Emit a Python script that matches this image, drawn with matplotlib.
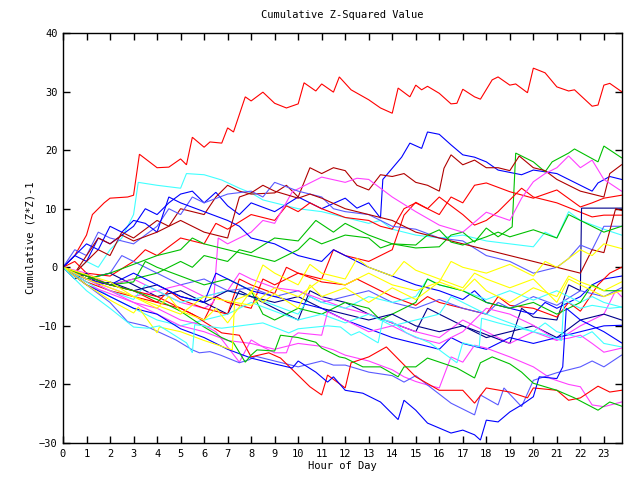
import matplotlib
matplotlib.use("Agg")
import matplotlib.pyplot as plt

# gnuplot-like palette
RED = "#ff0000"
GREEN = "#00c000"
BLUE = "#0000ff"
MAGENTA = "#ff40ff"
CYAN = "#40ffff"
DKRED = "#b00000"
YELLOW = "#ffff00"
SLATE = "#5a5aff"
NAVY = "#00008b"

# each walk: (hour, cumulative value) breakpoints
red_top = [(0, 0), (0.5, 2), (1, 5.5), (1.25, 9), (1.75, 11), (2, 11.8), (2.75, 12), (3, 12.3),
           (3.25, 19.3), (4, 17), (4.5, 17.1), (5, 18.5), (5.25, 17.5), (5.5, 22.2), (6, 20.5),
           (6.25, 21.4), (6.75, 21.2), (7, 23.8), (7.25, 23.1), (7.75, 29.1), (8, 28.4), (8.5, 29.9),
           (9, 28), (9.5, 27.2), (10, 27.9), (10.25, 31.5), (10.75, 30.1), (11, 31.3), (11.5, 29.9),
           (11.75, 32.5), (12.25, 30.3), (13, 28.6), (13.5, 27.2), (14, 26.3), (14.25, 30.6),
           (14.75, 29.1), (15, 31.1), (15.25, 30.3), (15.5, 30.9), (16, 29.7), (16.5, 27.9),
           (16.75, 28), (17, 30.4), (17.5, 29.1), (17.75, 28.7), (18.25, 32), (18.5, 32.5), (19, 31.1),
           (19.25, 31.3), (19.75, 29.8), (20, 34), (20.5, 33.2), (21, 30.8), (21.5, 30.1),
           (21.75, 30.3), (22.5, 27.5), (22.75, 27.7), (23, 31.1), (23.25, 31.4), (23.75, 30)]

cyan_top = [(0, 0), (0.5, -1), (1, 1), (1.5, 0), (2, 3), (2.5, 5), (3, 9), (3.2, 14.5), (4, 14),
            (5, 13.5), (5.25, 16), (6, 15.8), (6.75, 14.9), (7.5, 13.5), (8, 12.7), (8.5, 11.5), (9, 11),
            (10, 10), (11, 9.5), (12, 8.5), (13, 7.5), (13.5, 8), (14, 6.5), (15, 5.5), (16, 5),
            (17, 5.5), (18, 4.5), (19, 4), (20, 3.5), (20.5, 6), (21, 5), (21.5, 9.5), (22, 8),
            (23, 6.5), (23.75, 5.5)]

blue_peak = [(0, 0), (0.5, 2), (1, 1), (1.5, 5), (2, 4), (3, 7), (3.5, 10), (4, 9), (4.5, 11), (5, 12.5),
             (5.5, 13), (6, 11), (6.5, 12.8), (7, 10.5), (7.5, 9), (8, 11), (9, 9.5), (10, 12), (10.5, 11),
             (11, 10), (12, 11.8), (12.5, 10.1), (13, 11), (13.5, 8.4), (13.6, 15), (14.4, 18.8),
             (14.75, 21.2), (15.25, 20.3), (15.5, 23.1), (16, 22.7), (16.5, 20.9), (17, 19.2),
             (17.5, 18.8), (18, 18), (18.5, 16.6), (19.5, 15.8), (20, 16.6), (21, 16), (22, 14),
             (22.5, 13), (22.75, 14.4), (23.25, 15.5), (23.75, 15)]

green_top = [(0, 0), (1, -1.5), (2, -3), (3, -2), (4, -1), (5, 1), (5.5, 0), (6, 2), (7, 1), (7.5, 3),
             (8, 2.5), (9, 5), (10, 4.5), (10.75, 8), (11.5, 6), (12, 7.5), (13, 5.5), (14, 4), (15, 3.3),
             (16, 3.5), (16.5, 5.5), (17, 6), (17.5, 4.3), (18, 6.7), (18.5, 5.2), (19.1, 6.9),
             (19.25, 19.5), (20, 18), (20.5, 16.3), (20.8, 18), (21.5, 19.5), (21.75, 20.2),
             (22.75, 18), (23, 20.7), (23.75, 18.7)]

dkred_top = [(0, 0), (0.5, -1), (1, 1), (1.5, 3), (2, 2), (2.5, 6), (3, 5), (4, 8), (4.5, 7), (5, 10),
             (6, 9), (6.5, 12), (7, 14), (7.5, 13), (8, 12.5), (9, 12.7), (9.5, 14), (10, 12), (10.5, 17),
             (11, 16), (11.5, 17), (12, 16.5), (12.5, 14), (13, 13.2), (13.5, 15.8), (14, 15.5),
             (14.5, 16), (15, 14.5), (15.5, 14), (16, 13), (16.2, 16.9), (16.5, 19.2), (17, 17.5),
             (17.5, 18.3), (18, 17), (18.5, 17), (19, 16.5), (19.4, 19), (20, 17), (20.5, 16.5),
             (21, 15), (22, 13), (23, 12), (23.25, 16), (23.75, 17.5)]

red_mid = [(0, 0), (0.5, 1), (1, -1), (2, -1.5), (3, 1), (3.5, 3), (4, 2), (5, 5), (6, 4), (6.5, 7.5),
           (7, 6.5), (8, 9), (9, 8), (9.5, 10.5), (10, 9.5), (10.5, 11), (11, 10), (12, 8.5), (13, 8),
           (13.5, 7), (14, 6.5), (14.5, 10), (15, 11), (16, 9), (16.5, 12), (17, 11), (17.5, 14),
           (18, 14.4), (19, 12.9), (20, 11.8), (21, 13.2), (22, 10.3), (22.5, 11), (23, 11.8),
           (23.75, 12.3)]

red_mid2 = [(0, 0), (1, -2), (2, -3), (3, -4), (4, -6), (5, -7), (6, -9), (6.5, -5), (7, -6), (8, -7),
            (8.5, -2), (9, -3), (10, -1), (11, -2), (11.5, 3), (12, 2), (13, 1), (14, 3), (14.5, 8.9),
            (15, 11.1), (15.5, 10), (16, 12), (17, 9), (17.5, 7.2), (18, 8), (18.5, 9.5), (19, 11.5),
            (19.5, 13.5), (20, 12), (21, 11), (22, 9.4), (22.5, 8.6), (23, 8.9), (23.75, 8.9)]

navy_flat = [(0, 0), (1, -2), (2, -1), (3, -3), (4, -5), (5, -4), (6, -6), (7, -8), (7.5, -4), (8, -5),
             (9, -7), (10, -9), (10.5, -4), (11, -5), (12, -6), (13, -8), (14, -9.5), (15, -11),
             (15.5, -7), (16, -8), (17, -10), (18, -11.5), (19, -13), (19.5, -7), (20, -8.5), (21, -9),
             (21.5, -3), (22, -4), (22.05, 10.1), (23.75, 10.1)]

magenta_hi = [(0, 0), (1, -2), (2, -3.5), (3, -5), (4, -4), (5, -6), (6, -7), (6.4, -6), (6.6, 5),
              (7, 4), (8, 6), (8.5, 8), (9, 7.5), (9.75, 12.9), (10.5, 14.4), (11, 15.4), (12, 14.5),
              (12.5, 15.2), (13, 15), (14, 12), (15, 9.5), (16, 7.2), (17, 6), (18, 9.4), (19, 8),
              (19.5, 11.8), (20, 14.6), (20.5, 16), (21, 17), (21.5, 19), (22, 17), (22.5, 18.3),
              (23, 15), (23.75, 13)]

slate_hi = [(0, 0), (0.5, 3), (1, 2), (1.5, 6), (2, 5), (3, 4), (4, 7), (4.5, 10), (5, 9), (5.5, 12),
            (6, 11), (7, 12.5), (8, 13), (8.5, 12), (9, 14.5), (10, 13), (11, 12), (11.5, 10),
            (12, 9.5), (13, 9), (14, 7), (15, 6.5), (16, 5), (17, 4.5), (18, 2), (19, 1), (20, -1),
            (21, 0), (21.5, 1.5), (22, 3.8), (22.5, 3), (23, 7), (23.75, 7)]

blue_mid1 = [(0, 0), (0.5, 2), (1, 4), (1.5, 3), (2, 7), (2.5, 6), (3, 8), (3.5, 7.5), (4, 6),
             (4.5, 12), (5, 11), (6, 9.5), (7, 8), (7.5, 7), (8, 5), (9, 4), (10, 2), (11, 1),
             (11.5, 3), (12, 2), (13, 0), (14, -1.5), (15, -3), (16, -4), (17, -5.5), (17.5, -4),
             (18, -6), (19, -7), (20, -8), (20.5, -6), (21, -7), (22, -5), (22.5, -3), (23, -2),
             (23.75, -1.5)]

red_mid3 = [(0, 0), (1, -2.5), (2, -4), (3, -5), (4, -6), (4.5, -4), (5, -5.5), (6, -7), (7, -8),
            (7.5, -2), (8, -3), (9, -4.5), (9.5, 0), (10, -1), (11, -2.5), (12, -3), (12.5, -2),
            (13, -3), (14, -5), (15, -6.5), (15.5, -5), (16, -6), (17, -7), (18, -8), (18.5, -5),
            (19, -6.5), (20, -7), (21, -8.5), (21.5, -6), (22, -7.5), (22.75, -3), (23.25, -1),
            (23.75, 0)]

dkred_mid = [(0, 0), (0.5, -1), (1, 2), (1.5, 5), (2, 4), (2.5, 5.5), (3, 4.5), (4, 6), (5, 8),
             (5.5, 7), (6, 6), (7, 5), (7.5, 12), (8, 12.7), (8.5, 14), (9, 13), (10, 11.8),
             (10.5, 12.5), (11, 11.8), (12, 10), (13, 9), (14, 8), (15, 6), (16, 5), (17, 4), (18, 3),
             (19, 2), (20, 1), (21, 0), (22, -1), (22.5, 3), (23, 2.5), (23.5, 10), (23.75, 9.7)]

slate_mid = [(0, 0), (1, -2), (2, -1), (2.5, 2), (3, 1), (4, -1), (5, -3), (6, -2), (7, -4), (8, -3.5),
             (9, -5), (10, -4), (11, -6), (12, -5), (13, -4), (14, -6), (15, -7), (16, -5.5), (17, -7),
             (18, -8), (18.5, -6), (19, -7), (20, -5), (21, -6.5), (22, -4), (23, -5), (23.75, -3.5)]

magenta_mid = [(0, 0), (1, -1), (2, -3), (3, -2), (4, -4), (5, -3), (6, -5), (7, -4), (7.5, -1),
               (8, -2), (9, -3.5), (10, -4), (11, -5.5), (12, -7), (13, -8), (14, -9.5), (15, -11),
               (16, -12), (17, -9), (18, -11), (19, -13), (20, -11), (21, -12.5), (22, -10), (23, -8),
               (23.5, -4), (23.75, -5)]

cyan_mid = [(0, 0), (1, -2), (2, -4), (3, -5.5), (3.5, -3), (4, -4), (5, -6), (6, -5), (7, -4),
            (8, -5), (9, -6.5), (10, -8), (10.5, -5), (11, -6), (12, -7), (13, -5), (14, -6), (15, -5),
            (15.5, -2), (16, -3), (17, -4), (18, -5.5), (19, -4), (20, -5.6), (21, -4), (22, -6),
            (22.5, -5), (23, -6), (23.75, -6.8)]

green_mid = [(0, 0), (1, -1.5), (2, -3), (3, -2.5), (3.5, 1), (4, 0), (5, -1.5), (6, -3), (7, -2),
             (8, -4), (8.5, -8), (9, -9), (10, -7), (11, -8), (12, -6), (13, -7), (13.5, -9), (14, -8),
             (15, -6), (15.5, -2), (16, -3), (17, -4), (18, -6), (19, -7), (20, -6), (21, -8), (22, -6),
             (22.5, -3), (23, -4), (23.75, -4)]

green_mid2 = [(0, 0), (1, -2), (2, -1), (3, 0.5), (4, 2), (5, 3), (5.5, 5), (6, 4), (7, 3), (8, 2),
              (9, 1), (10, 3), (10.5, 5), (11, 4), (12, 5.5), (13, 5), (13.5, 3.3), (14, 4), (15, 3.8),
              (15.5, 5.5), (16, 6.4), (16.5, 4.3), (17, 3.8), (18, 5.2), (18.5, 6), (19, 5.2),
              (20, 6.4), (21, 5), (21.5, 9), (22, 8), (23, 6), (23.75, 7)]

navy_mid = [(0, 0), (0.5, -2), (1, -1), (1.5, -3), (2, -2.5), (3, -4), (4, -3), (5, -5), (6, -6),
            (7, -4), (8, -5), (9, -6), (10, -5), (11, -7), (12, -8), (13, -9), (14, -8), (15, -10),
            (16, -11), (17, -10), (18, -12), (19, -11), (20, -10), (21, -12), (22, -9), (23, -8),
            (23.75, -9)]

blue_mid2 = [(0, 0), (1, -2), (2, -3), (3, -1), (4, -3), (5, -5), (6, -6), (6.5, -1), (7, -2), (8, -4),
             (9, -5), (10, -6), (11, -7), (12, -9), (13, -10.5), (14, -12), (15, -13), (16, -14),
             (16.5, -12), (17, -13), (18, -14), (19, -12), (20, -13), (21, -12), (22, -11), (23, -10),
             (23.75, -9.9)]

cyan_low = [(0, 0), (1, -2.5), (2, -5), (3, -7), (4, -9), (5, -10), (6, -9), (7, -8), (8, -6),
            (9, -7.5), (10, -9), (11, -8), (12, -9.5), (13, -8), (14, -10), (15, -9), (16, -8),
            (16.5, -5), (17, -6), (18, -8), (19, -9.5), (20, -11), (20.5, -9.5), (21, -11), (22, -12),
            (22.5, -11), (23, -13), (23.75, -13.6)]

magenta_low = [(0, 0), (1, -2), (2, -4), (3, -6), (4, -7), (5, -9), (6, -9.9), (6.5, -11), (7.5, -16.2),
               (8, -12.4), (8.5, -13.6), (9, -14.6), (9.5, -14.6), (9.75, -11.9), (10, -11.2),
               (11, -11.6), (11.25, -7.6), (12, -9), (13, -11), (14, -10), (15, -12), (16, -13),
               (17, -11), (18, -7), (19, -8), (20, -9.9), (21, -12.4), (21.5, -12.1), (22, -11.6),
               (22.5, -13), (23, -14.5), (23.75, -13.8)]

magenta_low2 = [(0, 0), (1, -3), (2, -4.5), (3, -6), (4, -8), (5, -10), (6, -11), (7, -12.5), (8, -13),
                (9, -14), (10, -13), (11, -13.5), (11.5, -14.1), (12, -15), (12.5, -15.5), (13, -16),
                (14, -17.5), (14.5, -18.7), (15, -19.5), (15.5, -20.1), (16, -20.6), (16.5, -15.3),
                (17, -16.2), (17.5, -13.3), (18, -13.8), (19, -15.3), (20, -17), (20.75, -19),
                (21.5, -20), (22, -20.4), (22.5, -23.5), (23, -23.8), (23.75, -23)]

slate_low = [(0, 0), (1, -3), (2, -6), (2.75, -9.3), (3.5, -10), (4.8, -12.4), (5.5, -14.1),
             (5.8, -14.6), (6.25, -14.4), (6.7, -15), (7.5, -16.3), (7.9, -15.8), (8.2, -15.2),
             (9, -16), (10, -17), (11, -16), (11.5, -16.7), (12, -16.7), (13, -17.9), (14, -18.5),
             (14.5, -19.6), (15, -18.5), (15.5, -20.1), (16.5, -23.2), (17.5, -25.2), (17.75, -21.8),
             (18.5, -23.5), (18.75, -20.6), (19.5, -23.8), (20, -19.3), (21, -18), (22, -17),
             (22.5, -16), (23, -17), (23.75, -15)]

red_low = [(0, 0), (1, -1.5), (2, -3), (3, -4), (4, -5), (5, -7), (5.5, -8), (6, -9.3), (6.75, -11.2),
           (7.5, -11.6), (8, -15.3), (8.75, -14.6), (9.25, -15.5), (10.5, -20.4), (11, -21.8),
           (11.25, -18.4), (12, -20.6), (12.25, -16.3), (13, -15.3), (13.75, -13.6), (15, -18.7),
           (16, -21), (17, -21), (17.5, -23.2), (18, -20.6), (19, -21.3), (19.75, -22.3), (20, -20.6),
           (21, -21), (21.5, -22.7), (22, -22.3), (22.75, -20.3), (23.25, -21.3), (23.75, -21)]

blue_low = [(0, 0), (1, -3), (2, -5), (3, -7), (4, -8), (5, -10.5), (6, -12), (7, -14), (8, -15.5),
            (9, -16.5), (9.75, -17.2), (10, -16), (10.75, -17.9), (11.25, -19.6), (11.5, -18.7),
            (12, -21), (12.75, -21.5), (13.5, -23), (14.25, -26), (14.5, -22.7), (15, -24.4),
            (15.5, -26.6), (16.5, -28.3), (17, -27.8), (17.5, -28.6), (17.75, -29.5), (18, -26.1),
            (18.5, -26.4), (19, -24.7), (19.5, -23.5), (20, -22.1), (20.25, -18.7), (21, -19),
            (21.25, -17), (21.4, -7), (22, -9), (23, -11), (23.75, -12.9)]

green_low = [(0, 0), (1, -1.5), (2, -3), (3, -4), (4, -5.5), (5, -7.5), (6, -10.2), (6.75, -12),
             (7.25, -12.9), (7.75, -16.2), (8, -15), (8.25, -14.1), (9, -14.3), (9.25, -11.6), (10, -12),
             (10.75, -12.8), (11, -13.8), (11.75, -15.3), (12, -15.5), (12.75, -17), (13.5, -17),
             (14.25, -18.7), (14.5, -17), (15, -17), (15.5, -15.5), (16.75, -17.2), (17.5, -18.9),
             (17.75, -16.3), (18.25, -15.3), (19, -16.5), (19.5, -17.9), (20, -19.8), (21, -21),
             (21.75, -22.3), (22.75, -24.4), (23.25, -23), (23.75, -23.7)]

yellow_1 = [(0, 0), (1, -2), (2, -3.5), (3, -5), (4, -7), (4.5, -5), (5, -7.5), (6, -9), (6.5, -7),
            (7, -9.5), (8, -4), (8.5, -6), (9, -4.5), (10, -7), (10.5, -3), (11, -5), (12, -3.5),
            (13, -6), (14, -3.5), (15, -5.5), (16, -2.5), (17, -4), (17.5, -2), (18, -4), (19, -6),
            (20, -3.5), (21, -5), (21.5, -1.5), (22, -2.5), (23, -4), (23.75, -2.5)]

yellow_2 = [(0, 0), (2, -2.5), (3, -5), (5, -8), (6, -5), (8, -6.5), (9, -3.5), (10, -5), (11, -2),
            (12, -3), (13, -1), (14, -3), (15, -4), (16, -2.5), (16.5, 1), (17, 0), (18, -1),
            (19, 0.5), (20, -1.5), (20.5, 1), (21, 0), (22, 3), (22.5, 2), (23, 4), (23.75, 3.2)]

yellow_3 = [(0, 0), (1, -3), (2, -5.6), (3, -7.8), (3.2, -6.8), (4, -11.2), (4.1, -10.2), (5, -11),
            (6, -12.5), (7.2, -14.1), (7.3, -5.6), (8, -4.5), (8.5, 0.4), (9, -1), (10, -3),
            (10.5, 0.5), (11, -1), (12, -2), (12.5, 1.5), (13, 0), (14, -1.5), (14.5, 1), (15, -0.5),
            (16, -2), (17, -3.5), (17.5, -1), (18, -2), (19, -3.5), (20, -2), (20.5, -4), (21, -6),
            (21.5, -2), (22, -3), (23, -5), (23.75, -4)]

cyan_low2 = [(0, 0), (0.5, -2), (1, -4), (2, -7), (3, -10.2), (3.6, -10.4), (4.1, -10), (4.5, -11),
             (5.25, -12.9), (5.5, -14.6), (5.6, -9.8), (6.75, -10.4), (8.5, -9.5), (9.6, -11.2),
             (10, -10.5), (11.25, -10), (11.8, -10.2), (12.25, -11.6), (12.6, -11), (13.4, -12.9),
             (13.6, -9), (14, -9.3), (14.6, -11.2), (15.6, -12.9), (16.3, -15), (16.75, -16.3),
             (17, -12.9), (17.7, -13.6), (17.8, -8.7), (18.5, -9.5), (19.5, -10.5), (20.5, -11.5),
             (21.2, -12.5), (21.3, -5.6), (22, -7), (22.5, -6.5), (23.25, -7), (23.75, -6.8)]

walks = [
    (red_top, RED), (cyan_top, CYAN), (blue_peak, BLUE), (green_top, GREEN), (dkred_top, DKRED),
    (red_mid, RED), (red_mid2, RED), (navy_flat, NAVY), (magenta_hi, MAGENTA), (slate_hi, SLATE),
    (blue_mid1, BLUE), (red_mid3, RED), (dkred_mid, DKRED), (slate_mid, SLATE),
    (magenta_mid, MAGENTA), (cyan_mid, CYAN), (green_mid, GREEN), (green_mid2, GREEN),
    (navy_mid, NAVY), (blue_mid2, BLUE), (cyan_low, CYAN), (magenta_low, MAGENTA),
    (magenta_low2, MAGENTA), (slate_low, SLATE), (red_low, RED), (blue_low, BLUE),
    (green_low, GREEN), (yellow_1, YELLOW), (yellow_2, YELLOW), (yellow_3, YELLOW),
    (cyan_low2, CYAN),
]

hour_ticks = list(range(24))
value_ticks = [-30, -20, -10, 0, 10, 20, 30, 40]

plt.rcParams["font.family"] = "DejaVu Sans Mono"
fig = plt.figure(figsize=(6.4, 4.8), dpi=100)
ax = fig.add_axes([63 / 640, 1 - 443 / 480, 559 / 640, 410 / 480])

for pts, col in walks:
    xs = [p[0] for p in pts]
    ys = [p[1] for p in pts]
    ax.plot(xs, ys, color=col, linewidth=0.8, solid_joinstyle="miter")

ax.set_xlim(0, 23.77)
ax.set_ylim(-30, 40)
ax.set_xticks(hour_ticks)
ax.set_yticks(value_ticks)
ax.tick_params(direction="in", top=True, right=True, length=5, width=1, labelsize=7.5, pad=4)
for sp in ax.spines.values():
    sp.set_linewidth(1)

ax.set_title("Cumulative Z-Squared Value", fontsize=7.5, pad=11)
ax.set_xlabel("Hour of Day", fontsize=7.5, labelpad=2)
ax.set_ylabel("Cumulative (Z*Z)-1", fontsize=7.5, labelpad=2)

fig.savefig("out.png", dpi=100)
